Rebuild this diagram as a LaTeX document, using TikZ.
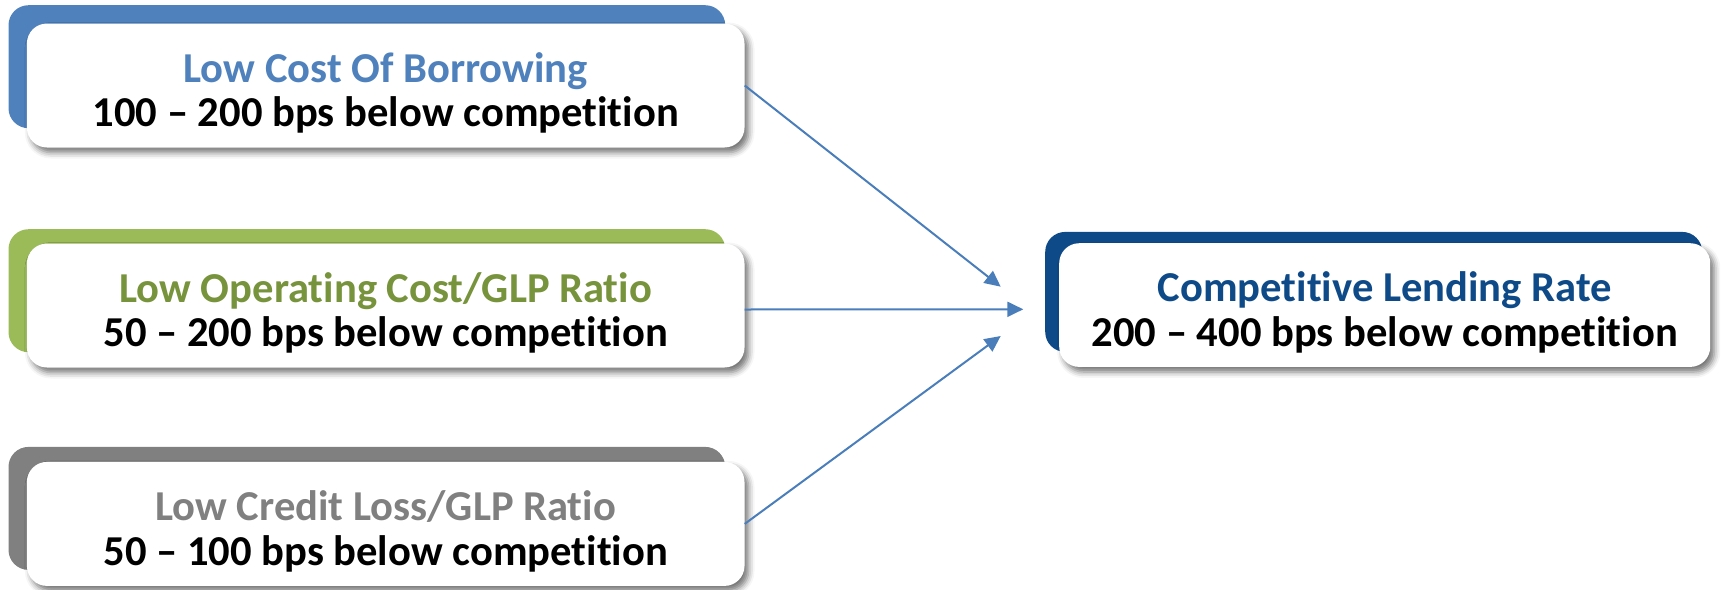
\documentclass[tikz,border=0pt]{standalone}
\usepackage{fontspec}
\setmainfont{Carlito}[Ligatures={NoCommon,NoContextual}]
\usetikzlibrary{shadows.blur,arrows.meta}
\definecolor{cblue}{HTML}{4F81BD}
\definecolor{cgreen}{HTML}{9BBB59}
\definecolor{cgreentxt}{HTML}{77933C}
\definecolor{cgray}{HTML}{808080}
\definecolor{cnavy}{HTML}{0E4A88}
\definecolor{arrowc}{HTML}{4A7EBB}
\begin{document}
\begin{tikzpicture}[x=1pt,y=-1pt,
  back/.style={rounded corners=20pt, minimum width=716.7pt, minimum height=123pt, inner sep=0pt, anchor=north west},
  card/.style={fill=white, rounded corners=20pt, minimum width=717.6pt, minimum height=124pt, inner sep=0pt, anchor=north west,
    blur shadow={shadow xshift=4pt, shadow yshift=-5pt, shadow blur radius=6pt, shadow opacity=55}},
  txt/.style={align=center, inner sep=0pt, font=\fontsize{42.6}{44.5}\selectfont\bfseries},
  link/.style={draw=arrowc, line width=2pt, -{Triangle[length=16pt,width=15pt]}}]
\useasboundingbox (0,0) rectangle (1723,589);
% box 1
\node[back, fill=cblue] (k1) at (8.3,5) {};
\node[card] (b1) at (26.7,23.3) {};
\node[txt, yshift=-7.5pt] (t1) at (b1.center) {\textcolor{cblue}{Low Cost Of Borrowing}\\100 – 200 bps below competition};
% box 2
\node[back, fill=cgreen] (k2) at (8.3,229) {};
\node[card] (b2) at (26.7,243.3) {};
\node[txt, yshift=-7.5pt] (t2) at (b2.center) {\textcolor{cgreentxt}{Low Operating Cost/GLP Ratio}\\50 – 200 bps below competition};
% box 3
\node[back, fill=cgray] (k3) at (8.3,446.7) {};
\node[card] (b3) at (26.7,461.7) {};
\node[txt, yshift=-7.5pt] (t3) at (b3.center) {\textcolor{cgray}{Low Credit Loss/GLP Ratio}\\50 – 100 bps below competition};
% result
\node[back, fill=cnavy, minimum width=657pt, minimum height=120pt] (k4) at (1045,231.7) {};
\node[card, minimum width=651pt, minimum height=123.7pt] (b4) at (1059,243) {};
\node[txt, yshift=-7.5pt] (t4) at (b4.center) {\textcolor{cnavy}{Competitive Lending Rate}\\200 – 400 bps below competition};
% arrows
\coordinate (e1) at (1000.7,286.7);
\coordinate (e2) at (1023.3,309.3);
\coordinate (e3) at (1000.7,336);
\draw[link] (b1.east) -- (e1);
\draw[link] ([yshift=-4pt]b2.east) -- (e2);
\draw[link] (b3.east) -- (e3);
\end{tikzpicture}
\end{document}
